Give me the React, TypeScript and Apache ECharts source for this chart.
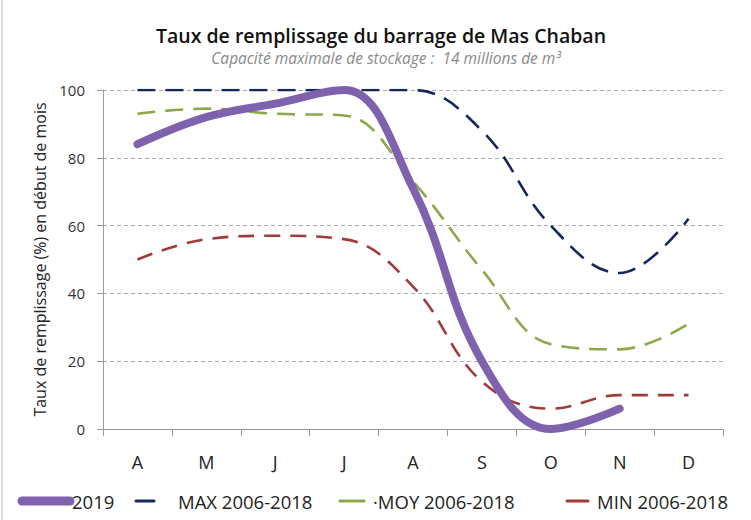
import React, { useEffect, useRef } from "react";
import * as echarts from "echarts";

const months = ["A", "M", "J", "J", "A", "S", "O", "N", "D"];
const yTicks = [0, 20, 40, 60, 80, 100];
const s2019 = [84, 92, 96, 100, 71, 20, 0, 6, null];
const sMax = [100, 100, 100, 100, 100, 88, 60, 46, 62];
const sMoy = [93, 94.5, 93, 92.5, 73, 47, 25, 23.5, 31];
const sMin = [50, 56, 57, 56, 42, 14, 6, 10, 10];

const seriesNames = ["2019", "MAX 2006-2018", "MOY 2006-2018", "MIN 2006-2018"];
const colors = ["#7F62AD", "#15275C", "#8DA84A", "#A03B3B"];

const FONT = "'Open Sans', 'Liberation Sans', sans-serif";

export default function App() {
  const ref = useRef<HTMLDivElement>(null);
  useEffect(() => {
    if (!ref.current) return;
    const chart = echarts.init(ref.current, null, { renderer: "svg" });
    const dashed = (c: string, dash: number[]) => ({
      color: c,
      width: 2.6,
      type: dash,
    });
    const legendItems = [
      { x1: 22, x2: 70, w: 9, tx: 72, label: seriesNames[0], c: colors[0] },
      { x1: 136, x2: 154, w: 3, tx: 178, label: seriesNames[1], c: colors[1] },
      { x1: 340, x2: 364, w: 3, tx: 373, label: "·" + seriesNames[2], c: colors[2] },
      { x1: 567, x2: 588, w: 3, tx: 597, label: seriesNames[3], c: colors[3] },
    ];
    const graphics: any[] = [
      {
        type: "line",
        shape: { x1: 2, y1: 0, x2: 2, y2: 520 },
        style: { stroke: "#bbbbbb", lineWidth: 1 },
      },
      {
        type: "text",
        x: 381,
        y: 35,
        style: {
          text: "Taux de remplissage du barrage de Mas Chaban",
          fill: "#111",
          font: `600 19.5px ${FONT}`,
          lineHeight: 20,
          align: "center",
          verticalAlign: "middle",
        },
      },
      {
        type: "text",
        x: 386,
        y: 58,
        style: {
          text: "Capacité maximale de stockage :  14 millions de m³",
          fill: "#8a8a8a",
          font: `italic 15.5px ${FONT}`,
          lineHeight: 16,
          align: "center",
          verticalAlign: "middle",
        },
      },
    ];
    legendItems.forEach((it) => {
      graphics.push({
        type: "line",
        shape: { x1: it.x1, y1: 501, x2: it.x2, y2: 501 },
        style: { stroke: it.c, lineWidth: it.w, lineCap: "round" },
      });
      graphics.push({
        type: "text",
        x: it.tx,
        y: 501,
        style: {
          text: it.label,
          fill: "#222",
          font: `18.5px ${FONT}`,
          verticalAlign: "middle",
        },
      });
    });
    chart.setOption({
      animation: false,
      backgroundColor: "#ffffff",
      grid: { left: 103, right: 28, top: 90, bottom: 91, containLabel: false },
      xAxis: {
        type: "category",
        data: months,
        boundaryGap: true,
        axisLine: { lineStyle: { color: "#999", width: 1 } },
        axisTick: { show: true, length: 7, lineStyle: { color: "#999" } },
        axisLabel: { fontFamily: FONT, fontSize: 18, color: "#222", margin: 24 },
      },
      yAxis: {
        type: "value",
        min: 0,
        max: 100,
        interval: 20,
        name: "Taux de remplissage (%) en début de mois",
        nameLocation: "middle",
        nameGap: 55,
        nameTextStyle: { fontFamily: FONT, fontSize: 16, color: "#222" },
        axisLine: { show: true, lineStyle: { color: "#999", width: 1 } },
        axisTick: { show: true, length: 6, lineStyle: { color: "#999" } },
        axisLabel: {
          fontFamily: FONT,
          fontSize: 15,
          color: "#333",
          margin: 18,
          formatter: (v: number) => (yTicks.includes(v) ? String(v) : ""),
        },
        splitLine: { show: true, lineStyle: { color: "#aaa", type: [4, 3], width: 1 } },
      },
      series: [
        {
          name: seriesNames[1],
          type: "line",
          data: sMax,
          smooth: 0.4,
          symbol: "none",
          lineStyle: dashed(colors[1], [18, 10]),
          z: 2,
        },
        {
          name: seriesNames[2],
          type: "line",
          data: sMoy,
          smooth: 0.4,
          symbol: "none",
          lineStyle: dashed(colors[2], [18, 10]),
          z: 3,
        },
        {
          name: seriesNames[3],
          type: "line",
          data: sMin,
          smooth: 0.4,
          symbol: "none",
          lineStyle: dashed(colors[3], [16, 10]),
          z: 3,
        },
        {
          name: seriesNames[0],
          type: "line",
          data: s2019,
          smooth: 0.4,
          symbol: "none",
          connectNulls: false,
          lineStyle: { color: colors[0], width: 8, cap: "round", join: "round" },
          z: 4,
        },
      ],
      graphic: graphics,
    });
    return () => chart.dispose();
  }, []);
  return (
    <div
      ref={ref}
      style={{ position: "absolute", left: 0, top: 0, width: 751, height: 520 }}
    />
  );
}
